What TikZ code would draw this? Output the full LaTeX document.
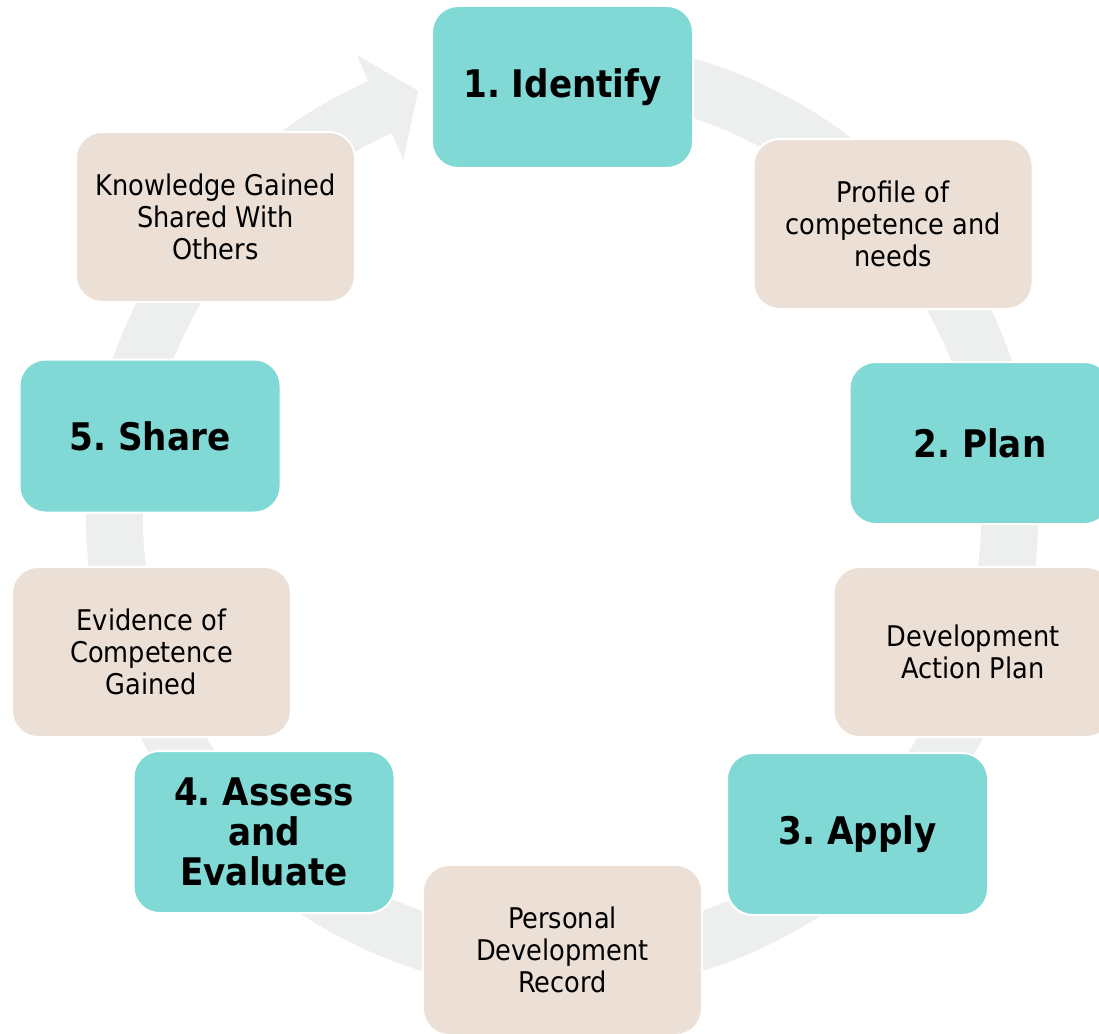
\documentclass[tikz,border=0pt]{standalone}
\usepackage{
	fontspec,			% System Fonts
	tikz,
	xcolor
}
\setmainfont{DejaVu Sans Condensed}
\frenchspacing
\definecolor{stageteal}{HTML}{80D9D5}
\definecolor{resultbeige}{HTML}{ECE0D6}
\definecolor{ringgray}{HTML}{EDEEEE}

\begin{document}
\begin{tikzpicture}[x=1pt, y=1pt,
		stage/.style={rectangle, rounded corners=26pt, fill=stageteal, draw=white, line width=2pt,
			minimum width=261pt, minimum height=162pt, align=center,
			font=\bfseries\fontsize{38}{40}\selectfont},
		result/.style={rectangle, rounded corners=26pt, fill=resultbeige, draw=white, line width=2pt,
			minimum width=279pt, minimum height=170pt, align=center,
			font=\fontsize{28.5}{32}\selectfont}]
		\useasboundingbox (0,0) rectangle (1099,-1033);
		% circular arrow behind the boxes
		\begin{scope}[shift={(562,-516)}]
			\fill[ringgray] (100:476) arc[start angle=100, end angle=-246, radius=476]
				-- (-246:505) -- (-251.3:449) -- (-246:390) -- (-246:419)
				arc[start angle=-246, end angle=100, radius=419] -- cycle;
		\end{scope}
		% stages
		\node[stage] (identify) at (562.5,-87) {1. Identify};
		\node[stage] (plan) at (980,-443) {2. Plan};
		\node[stage] (apply) at (857.5,-834) {3. Apply};
		\node[stage] (assess) at (264,-832) {4. Assess\\and\\Evaluate};
		\node[stage, minimum height=153pt] (share) at (150,-436) {5. Share};
		% results
		\node[result] (profile) at (893,-224) {Profile of\\competence and\\needs};
		\node[result] (actionplan) at (973,-652) {Development\\Action Plan};
		\node[result] (record) at (562.5,-950) {Personal\\Development\\Record};
		\node[result] (evidence) at (151.5,-652) {Evidence of\\Competence\\Gained};
		\node[result] (knowledge) at (215.5,-217) {Knowledge Gained\\Shared With\\Others};
	\end{tikzpicture}
\end{document}
